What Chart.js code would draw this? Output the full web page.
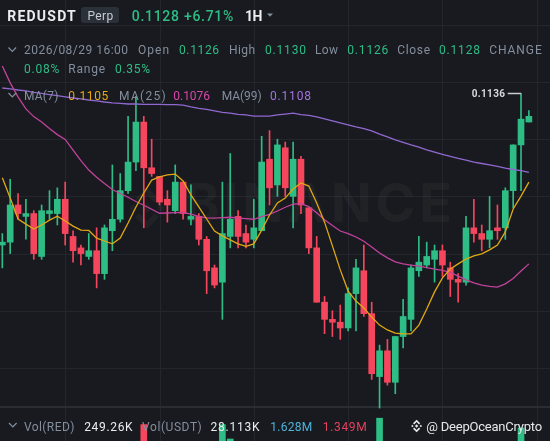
<!DOCTYPE html>
<html>
<head>
<meta charset="utf-8">
<script src="https://cdn.jsdelivr.net/npm/chart.js@4.4.1/dist/chart.umd.min.js"></script>
<style>
  html, body { margin: 0; padding: 0; background: #181a1f; }
  #wrap { width: 550px; height: 441px; }
</style>
</head>
<body>
<div id="wrap"><canvas id="myChart" width="550" height="441"></canvas></div>
<script>
// Candles (1H, REDUSDT) ==>
var opens = [0.1083, 0.1084, 0.1097, 0.1093, 0.1094, 0.1079, 0.1094, 0.1094, 0.1099, 0.1086,
  0.1082, 0.1079, 0.1081, 0.1073, 0.1088, 0.1092, 0.1102, 0.1112, 0.1126, 0.1110,
  0.1107, 0.1099, 0.1095, 0.1105, 0.1092, 0.1093, 0.1085, 0.1075, 0.1070, 0.1086,
  0.1093, 0.1087, 0.1085, 0.1088, 0.1113, 0.1104, 0.1117, 0.1100, 0.1113, 0.1096,
  0.1082, 0.1063, 0.1057, 0.1056, 0.1054, 0.1066, 0.1074, 0.1059, 0.1037, 0.1046,
  0.1035, 0.1051, 0.1057, 0.1074, 0.1076, 0.1078, 0.1081, 0.1075, 0.1071, 0.1070,
  0.1089, 0.1087, 0.1085, 0.1089, 0.1089, 0.1102, 0.1118, 0.1126]
var highs = [0.1087, 0.1106, 0.1101, 0.1099, 0.1095, 0.1097, 0.1102, 0.1103, 0.1105, 0.1088,
  0.1083, 0.1087, 0.1089, 0.1090, 0.1111, 0.1108, 0.1128, 0.1135, 0.1128, 0.1120,
  0.1107, 0.1102, 0.1111, 0.1105, 0.1104, 0.1094, 0.1086, 0.1076, 0.1105, 0.1115,
  0.1095, 0.1090, 0.1099, 0.1121, 0.1123, 0.1120, 0.1119, 0.1119, 0.1114, 0.1096,
  0.1086, 0.1065, 0.1060, 0.1062, 0.1068, 0.1078, 0.1083, 0.1063, 0.1048, 0.1050,
  0.1051, 0.1064, 0.1076, 0.1086, 0.1084, 0.1083, 0.1083, 0.1077, 0.1073, 0.1093,
  0.1099, 0.1090, 0.1100, 0.1097, 0.1103, 0.1118, 0.1136, 0.1130]
var lows = [0.1075, 0.1080, 0.1092, 0.1085, 0.1078, 0.1078, 0.1092, 0.1090, 0.1083, 0.1077,
  0.1076, 0.1078, 0.1068, 0.1071, 0.1081, 0.1091, 0.1101, 0.1109, 0.1089, 0.1107,
  0.1097, 0.1091, 0.1094, 0.1092, 0.1090, 0.1083, 0.1066, 0.1068, 0.1057, 0.1082,
  0.1082, 0.1082, 0.1082, 0.1088, 0.1097, 0.1100, 0.1100, 0.1089, 0.1094, 0.1080,
  0.1063, 0.1052, 0.1051, 0.1050, 0.1053, 0.1053, 0.1058, 0.1036, 0.1026, 0.1034,
  0.1031, 0.1047, 0.1053, 0.1072, 0.1075, 0.1070, 0.1072, 0.1065, 0.1063, 0.1069,
  0.1084, 0.1081, 0.1082, 0.1085, 0.1085, 0.1096, 0.1102, 0.1126]
var closes = [0.1084, 0.1097, 0.1094, 0.1094, 0.1080, 0.1095, 0.1095, 0.1099, 0.1087, 0.1081,
  0.1080, 0.1081, 0.1073, 0.1089, 0.1092, 0.1102, 0.1112, 0.1126, 0.1110, 0.1108,
  0.1098, 0.1097, 0.1105, 0.1094, 0.1093, 0.1085, 0.1074, 0.1069, 0.1087, 0.1092,
  0.1086, 0.1084, 0.1089, 0.1112, 0.1103, 0.1118, 0.1103, 0.1113, 0.1097, 0.1082,
  0.1063, 0.1057, 0.1056, 0.1054, 0.1066, 0.1075, 0.1059, 0.1038, 0.1046, 0.1035,
  0.1051, 0.1058, 0.1075, 0.1077, 0.1079, 0.1081, 0.1076, 0.1071, 0.1070, 0.1089,
  0.1087, 0.1085, 0.1088, 0.1088, 0.1102, 0.1118, 0.1127, 0.1128]
var volumes = [820000, 1450000, 760000, 540000, 980000, 1120000, 610000, 880000, 1240000, 930000,
  520000, 470000, 1310000, 1380000, 1650000, 1190000, 1880000, 1960000, 2820000, 1020000,
  640000, 580000, 1270000, 1090000, 690000, 880000, 1560000, 1130000, 2820000, 2100000,
  1180000, 720000, 860000, 1920000, 1540000, 1430000, 1370000, 1610000, 1120000, 1290000,
  1830000, 1350000, 640000, 720000, 1060000, 1280000, 1410000, 1950000, 3140000, 1470000,
  1620000, 1080000, 1760000, 940000, 620000, 810000, 740000, 880000, 910000, 1480000,
  1030000, 860000, 1070000, 1620000, 1710000, 1910000, 2650000, 249260]

// Moving averages ==>
var ma7 = [0.11065, 0.10994, 0.10921, 0.10903, 0.10886, 0.10900, 0.10917, 0.10931, 0.10914, 0.10896,
  0.10882, 0.10881, 0.10854, 0.10844, 0.10834, 0.10854, 0.10907, 0.10963, 0.11012, 0.11057,
  0.11068, 0.11075, 0.11078, 0.11054, 0.11005, 0.10963, 0.10921, 0.10879, 0.10862, 0.10848,
  0.10834, 0.10825, 0.10834, 0.10882, 0.10935, 0.10977, 0.10994, 0.11026, 0.11047, 0.11036,
  0.10977, 0.10910, 0.10827, 0.10743, 0.10669, 0.10634, 0.10610, 0.10578, 0.10550, 0.10533,
  0.10522, 0.10519, 0.10519, 0.10550, 0.10606, 0.10666, 0.10715, 0.10746, 0.10764, 0.10781,
  0.10792, 0.10799, 0.10813, 0.10830, 0.10876, 0.10956, 0.11001, 0.11050]
var ma25 = [0.11456, 0.11397, 0.11348, 0.11306, 0.11279, 0.11260, 0.11237, 0.11216, 0.11199, 0.11162,
  0.11125, 0.11092, 0.11067, 0.11045, 0.11024, 0.11010, 0.10997, 0.10982, 0.10969, 0.10955,
  0.10941, 0.10942, 0.10943, 0.10944, 0.10938, 0.10930, 0.10925, 0.10924, 0.10926, 0.10927,
  0.10924, 0.10922, 0.10920, 0.10929, 0.10937, 0.10949, 0.10962, 0.10973, 0.10975, 0.10964,
  0.10943, 0.10918, 0.10898, 0.10879, 0.10870, 0.10858, 0.10843, 0.10823, 0.10802, 0.10785,
  0.10771, 0.10764, 0.10760, 0.10756, 0.10751, 0.10746, 0.10741, 0.10734, 0.10721, 0.10708,
  0.10698, 0.10690, 0.10685, 0.10683, 0.10694, 0.10713, 0.10739, 0.10764]
var ma99 = [0.11379, 0.11376, 0.11372, 0.11369, 0.11364, 0.11360, 0.11356, 0.11352, 0.11348, 0.11344,
  0.11341, 0.11337, 0.11334, 0.11330, 0.11327, 0.11325, 0.11323, 0.11323, 0.11322, 0.11322,
  0.11322, 0.11321, 0.11321, 0.11319, 0.11313, 0.11308, 0.11304, 0.11299, 0.11294, 0.11291,
  0.11287, 0.11285, 0.11281, 0.11281, 0.11281, 0.11285, 0.11288, 0.11291, 0.11286, 0.11283,
  0.11278, 0.11271, 0.11264, 0.11257, 0.11250, 0.11243, 0.11237, 0.11229, 0.11218, 0.11208,
  0.11198, 0.11189, 0.11180, 0.11172, 0.11163, 0.11155, 0.11147, 0.11140, 0.11133, 0.11127,
  0.11120, 0.11115, 0.11110, 0.11105, 0.11099, 0.11094, 0.11090, 0.11084]

// Grid ticks ==>
var priceGrid = [0.116, 0.114, 0.112, 0.110, 0.108, 0.106, 0.104]
var timeGrid = [8, 20, 32, 44, 56, 68]

var BG = '#181a1f'
var GRID = '#23262c'
var GREEN = '#2ebd85'
var RED = '#f6465d'
var GRAY = '#848e9c'
var WHITE = '#eaecef'
var C7 = '#e0a812', C25 = '#c2429c', C99 = '#9068d0'

var idx = opens.map(function (v, i) { return i })
var colors = idx.map(function (i) { return closes[i] >= opens[i] ? GREEN : RED })

// text with width fitting ==>
function txt(c, s, x, base, font, color, w) {
  c.font = font
  c.fillStyle = color
  c.textAlign = 'left'
  c.textBaseline = 'alphabetic'
  c.letterSpacing = '0px'
  if (w) {
    var m = c.measureText(s).width
    var sp = (w - m) / Math.max(1, s.length - 1)
    c.letterSpacing = sp.toFixed(2) + 'px'
  }
  c.fillText(s, x, base)
  c.letterSpacing = '0px'
}

function chevron(c, x, y) {
  c.strokeStyle = GRAY
  c.lineWidth = 1.2
  c.beginPath()
  c.moveTo(x, y)
  c.lineTo(x + 3.8, y + 4)
  c.lineTo(x + 7.6, y)
  c.stroke()
}

function logo(c, cx, cy, s) {
  function diamond(x, y, r) {
    c.beginPath()
    c.moveTo(x, y - r); c.lineTo(x + r, y); c.lineTo(x, y + r); c.lineTo(x - r, y)
    c.closePath(); c.fill()
  }
  diamond(cx, cy, 5.5 * s)
  diamond(cx - 14 * s, cy, 4 * s)
  diamond(cx + 14 * s, cy, 4 * s);
  [-1, 1].forEach(function (d) {
    c.beginPath()
    c.moveTo(cx, cy + d * 21 * s)
    c.lineTo(cx + 12 * s, cy + d * 9 * s)
    c.lineTo(cx + 8 * s, cy + d * 5 * s)
    c.lineTo(cx, cy + d * 13 * s)
    c.lineTo(cx - 8 * s, cy + d * 5 * s)
    c.lineTo(cx - 12 * s, cy + d * 9 * s)
    c.closePath(); c.fill()
  })
}

// background, grid, watermark ==>
var backPlugin = {
  id: 'back',
  beforeDraw: function (chart) {
    var c = chart.ctx
    c.save()
    c.fillStyle = BG
    c.fillRect(0, 0, chart.width, chart.height)
    c.restore()
  },
  beforeDatasetsDraw: function (chart) {
    var c = chart.ctx, xs = chart.scales.x, ys = chart.scales.y
    c.save()
    c.strokeStyle = GRID
    c.lineWidth = 1
    priceGrid.forEach(function (p) {
      var y = Math.round(ys.getPixelForValue(p)) + 0.5
      c.beginPath(); c.moveTo(0, y); c.lineTo(chart.width, y); c.stroke()
    })
    timeGrid.forEach(function (t) {
      var x = Math.round(xs.getPixelForValue(t)) + 0.5
      c.beginPath(); c.moveTo(x, 0); c.lineTo(x, chart.height); c.stroke()
    })
    c.fillStyle = '#2a2d34'
    c.fillRect(0, 406, chart.width, 2)

    c.fillStyle = 'rgba(255,255,255,0.035)'
    logo(c, 147, 208, 1)
    txt(c, 'BINANCE', 184, 222, 'bold 54px Inter', 'rgba(255,255,255,0.035)', 268)
    c.restore()
  }
}

// header + footer texts ==>
var textPlugin = {
  id: 'texts',
  afterDraw: function (chart) {
    var c = chart.ctx, xs = chart.scales.x, ys = chart.scales.y
    c.save()
    txt(c, 'REDUSDT', 7.3, 21, 'bold 14px Roboto', WHITE, 68.4)
    c.fillStyle = '#2b3139'
    c.beginPath()
    if (c.roundRect) c.roundRect(81, 7, 38, 16, 3); else c.rect(81, 7, 38, 16)
    c.fill()
    txt(c, 'Perp', 87.5, 19.5, '12px Roboto', '#c9cdd3', 25.8)
    txt(c, '0.1128 +6.71%', 131.7, 21, '500 14px Roboto', GREEN, 101.6)
    txt(c, '1H', 245, 21, 'bold 14px Roboto', WHITE, 17.3)
    c.fillStyle = GRAY
    c.beginPath(); c.moveTo(267, 13.5); c.lineTo(273, 13.5); c.lineTo(270, 16.8); c.closePath(); c.fill()

    chevron(c, 8.5, 47.5)
    var f12 = '12px Roboto'
    var row2 = [['2026/08/29 16:00', 24, 104, GRAY], ['Open', 138, 31, GRAY], ['0.1126', 179, 40, GREEN],
      ['High', 229, 26, GRAY], ['0.1130', 265, 41, GREEN], ['Low', 315, 23, GRAY], ['0.1126', 347.3, 41, GREEN],
      ['Close', 397.3, 32.7, GRAY], ['0.1128', 439, 41, GREEN], ['CHANGE', 489.3, 52.4, GRAY]]
    row2.forEach(function (r) { txt(c, r[0], r[1], 54.3, f12, r[3], r[2]) })
    var row3 = [['0.08%', 24, 35.3, GREEN], ['Range', 68.3, 36.7, GRAY], ['0.35%', 115, 35, GREEN]]
    row3.forEach(function (r) { txt(c, r[0], r[1], 72.7, f12, r[3], r[2]) })

    chevron(c, 8.5, 93)
    var row4 = [['MA(7)', 24, 34.3, GRAY], ['0.1105', 68.3, 40, '#e9ab0e'], ['MA(25)', 119, 46.7, GRAY],
      ['0.1076', 173.3, 36.7, '#d548a8'], ['MA(99)', 221.7, 40, GRAY], ['0.1108', 270, 41, '#a374e0']]
    row4.forEach(function (r) { txt(c, r[0], r[1], 100, f12, r[3], r[2]) })

    // max high marker
    var hi = Math.max.apply(null, highs)
    var hx = xs.getPixelForValue(highs.indexOf(hi))
    var hy = Math.round(ys.getPixelForValue(hi)) + 0.5
    c.strokeStyle = '#c9cdd3'
    c.lineWidth = 1.5
    c.beginPath(); c.moveTo(507.7, hy); c.lineTo(hx, hy); c.stroke()
    txt(c, hi.toFixed(4), 471.7, hy + 3.5, 'bold 10px Roboto', '#d5d9de', 33.3)

    // volume legend
    chevron(c, 9, 423)
    var row5 = [['Vol(RED)', 23.9, 50.5, GRAY], ['249.26K', 84.2, 48.4, WHITE], ['Vol(USDT)', 142.1, 59.7, GRAY],
      ['28.113K', 210.5, 49.1, WHITE], ['1.628M', 270.2, 42.1, '#4fb3d9'], ['1.349M', 322.8, 43.9, '#e4405c']]
    row5.forEach(function (r) { txt(c, r[0], r[1], 430.5, '12px Roboto', r[3], r[2]) })
    c.fillStyle = '#e6e8ea'
    logo(c, 416.6, 426, 0.3)
    txt(c, '@ DeepOceanCrypto', 426.3, 431, '13px Roboto', '#e6e8ea', 115.8)
    c.restore()
  }
}

// Creat chart ==>
const ctx = document.getElementById('myChart')
new Chart(ctx, {
  type: 'bar',
  data: {
    datasets: [
      { type: 'line', label: 'MA(7)', data: idx.map(function (i) { return { x: i, y: ma7[i] } }),
        borderColor: C7, borderWidth: 1.3, pointRadius: 0, yAxisID: 'y', order: 0 },
      { type: 'line', label: 'MA(25)', data: idx.map(function (i) { return { x: i, y: ma25[i] } }),
        borderColor: C25, borderWidth: 1.3, pointRadius: 0, yAxisID: 'y', order: 0 },
      { type: 'line', label: 'MA(99)', data: idx.map(function (i) { return { x: i, y: ma99[i] } }),
        borderColor: C99, borderWidth: 1.3, pointRadius: 0, yAxisID: 'y', order: 0 },
      { label: 'body', data: idx.map(function (i) { return { x: i, y: [opens[i], closes[i]] } }),
        backgroundColor: colors, barThickness: 6, minBarLength: 1, grouped: false, yAxisID: 'y', order: 1 },
      { label: 'wick', data: idx.map(function (i) { return { x: i, y: [lows[i], highs[i]] } }),
        backgroundColor: colors, barThickness: 1, grouped: false, yAxisID: 'y', order: 2 },
      { label: 'vol', data: idx.map(function (i) { return { x: i, y: volumes[i] } }),
        backgroundColor: colors, barThickness: 6, grouped: false, yAxisID: 'yv', order: 3 }
    ]
  },
  options: {
    responsive: false,
    animation: false,
    events: [],
    layout: { padding: 0 },
    plugins: { legend: { display: false }, tooltip: { enabled: false } },
    scales: {
      x: { type: 'linear', display: false, offset: false, min: -0.2965, max: 69.687 },
      y: { display: false, min: 0.101447, max: 0.116867 },
      yv: { display: false, min: 2000000, max: 24050000 }
    }
  },
  plugins: [backPlugin, textPlugin]
})
</script>
</body>
</html>
